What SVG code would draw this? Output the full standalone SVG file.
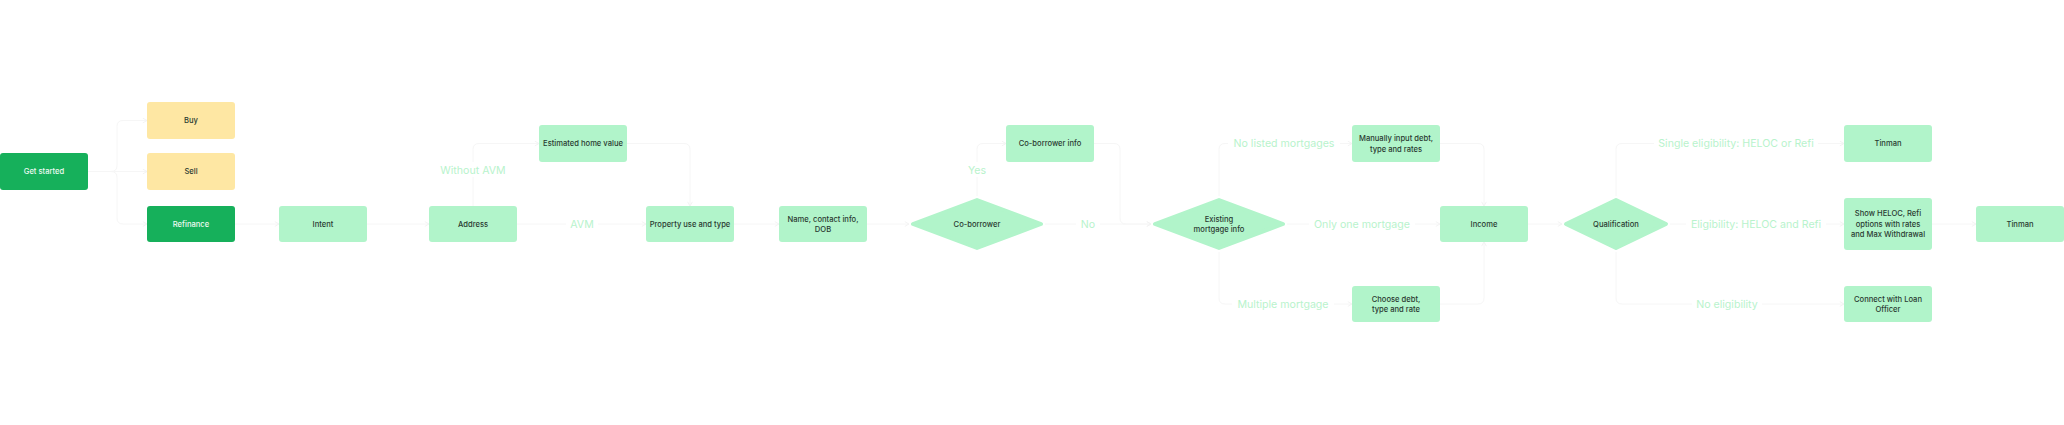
<svg xmlns="http://www.w3.org/2000/svg" width="2064" height="425" viewBox="0 0 2064 425">
<style>
.bg{fill:#ffffff}
.n rect{rx:3;ry:3}
.dark{fill:#16b05b}
.yel{fill:#fee7a3}
.lt{fill:#b1f4ca}
.dia{fill:#b1f4ca;stroke:#b1f4ca;stroke-width:4;stroke-linejoin:round}
.t{font-family:Inter,"Liberation Sans",sans-serif;font-size:7.6px;font-weight:500;fill:#2a3a31;text-anchor:middle}
.tw{fill:#eefaf2}
.c path{fill:none;stroke:#f6f6f6;stroke-width:1}
.lb rect{fill:#ffffff}
.lb text{font-family:Inter,"Liberation Sans",sans-serif;font-size:10.6px;fill:#b8f3cc;text-anchor:middle}
</style>
<defs>
<marker id="a" viewBox="0 0 10 10" refX="9" refY="5" markerWidth="6" markerHeight="6" orient="auto" markerUnits="userSpaceOnUse">
<path d="M2,1 L9,5 L2,9" fill="none" stroke="#f2f2f2" stroke-width="1.5"/>
</marker>
</defs>
<rect class="bg" x="0" y="0" width="2064" height="425"/>
<g id="connectors" class="c">
<path d="M88,171.5 H111 Q117,171.5 117,165.5 V126.5 Q117,120.5 123,120.5 H147" marker-end="url(#a)"/>
<path d="M88,171.5 H147" marker-end="url(#a)"/>
<path d="M88,171.5 H111 Q117,171.5 117,177.5 V218 Q117,224 123,224 H147" marker-end="url(#a)"/>
<path d="M235,224 H279" marker-end="url(#a)"/>
<path d="M367,224 H429" marker-end="url(#a)"/>
<path d="M473,206 V149.5 Q473,143.5 479,143.5 H539" marker-end="url(#a)"/>
<path d="M517,224 H646" marker-end="url(#a)"/>
<path d="M627,143.5 H684 Q690,143.5 690,149.5 V206" marker-end="url(#a)"/>
<path d="M734,224 H779" marker-end="url(#a)"/>
<path d="M867,224 H909" marker-end="url(#a)"/>
<path d="M977,196 V149.5 Q977,143.5 983,143.5 H1006" marker-end="url(#a)"/>
<path d="M1045,224 H1151" marker-end="url(#a)"/>
<path d="M1094,143.5 H1114 Q1120,143.5 1120,149.5 V218 Q1120,224 1126,224 H1151" marker-end="url(#a)"/>
<path d="M1219,196 V149.5 Q1219,143.5 1225,143.5 H1352" marker-end="url(#a)"/>
<path d="M1287,224 H1440" marker-end="url(#a)"/>
<path d="M1219,252 V298 Q1219,304 1225,304 H1352" marker-end="url(#a)"/>
<path d="M1440,143.5 H1478 Q1484,143.5 1484,149.5 V206" marker-end="url(#a)"/>
<path d="M1440,304 H1478 Q1484,304 1484,298 V242" marker-end="url(#a)"/>
<path d="M1528,224 H1562" marker-end="url(#a)"/>
<path d="M1616,196 V149.5 Q1616,143.5 1622,143.5 H1844" marker-end="url(#a)"/>
<path d="M1670,224 H1844" marker-end="url(#a)"/>
<path d="M1616,252 V298 Q1616,304 1622,304 H1844" marker-end="url(#a)"/>
<path d="M1932,224 H1976" marker-end="url(#a)"/>
</g>
<g id="labels" class="lb">
<rect x="436" y="162" width="74" height="15"/><text x="473" y="173.8">Without AVM</text>
<rect x="566" y="216" width="32" height="15"/><text x="582" y="227.8">AVM</text>
<rect x="963" y="162" width="28" height="15"/><text x="977" y="173.8">Yes</text>
<rect x="1076" y="216" width="24" height="15"/><text x="1088" y="227.8">No</text>
<rect x="1228" y="136" width="112" height="15"/><text x="1284" y="147.3">No listed mortgages</text>
<rect x="1309" y="216" width="106" height="15"/><text x="1362" y="227.8">Only one mortgage</text>
<rect x="1232" y="296" width="102" height="15"/><text x="1283" y="307.8">Multiple mortgage</text>
<rect x="1654" y="136" width="164" height="15"/><text x="1736" y="147.3">Single eligibility: HELOC or Refi</text>
<rect x="1686" y="216" width="140" height="15"/><text x="1756" y="227.8">Eligibility: HELOC and Refi</text>
<rect x="1692" y="296" width="70" height="15"/><text x="1727" y="307.8">No eligibility</text>
</g>
<g id="get-started" class="n"><rect class="dark" x="0" y="153" width="88" height="37"/><text class="t tw" x="44" y="174.2">Get started</text></g>
<g id="buy" class="n"><rect class="yel" x="147" y="102" width="88" height="37"/><text class="t" x="191" y="123.2">Buy</text></g>
<g id="sell" class="n"><rect class="yel" x="147" y="153" width="88" height="37"/><text class="t" x="191" y="174.2">Sell</text></g>
<g id="refinance" class="n"><rect class="dark" x="147" y="206" width="88" height="36"/><text class="t tw" x="191" y="226.7">Refinance</text></g>
<g id="intent" class="n"><rect class="lt" x="279" y="206" width="88" height="36"/><text class="t" x="323" y="226.7">Intent</text></g>
<g id="address" class="n"><rect class="lt" x="429" y="206" width="88" height="36"/><text class="t" x="473" y="226.7">Address</text></g>
<g id="estimated-home-value" class="n"><rect class="lt" x="539" y="125" width="88" height="37"/><text class="t" x="583" y="146.2">Estimated home value</text></g>
<g id="property-use" class="n"><rect class="lt" x="646" y="206" width="88" height="36"/><text class="t" x="690" y="226.7">Property use and type</text></g>
<g id="name-contact" class="n"><rect class="lt" x="779" y="206" width="88" height="36"/><text class="t" x="823" y="221.5">Name, contact info,</text><text class="t" x="823" y="232">DOB</text></g>
<g id="co-borrower" class="n"><path class="dia" d="M913,224 L977,200 L1041,224 L977,248 Z"/><text class="t" x="977" y="226.7">Co-borrower</text></g>
<g id="co-borrower-info" class="n"><rect class="lt" x="1006" y="125" width="88" height="37"/><text class="t" x="1050" y="146.2">Co-borrower info</text></g>
<g id="existing-mortgage" class="n"><path class="dia" d="M1155,224 L1219,200 L1283,224 L1219,248 Z"/><text class="t" x="1219" y="221.5">Existing</text><text class="t" x="1219" y="232">mortgage info</text></g>
<g id="manual-debt" class="n"><rect class="lt" x="1352" y="125" width="88" height="37"/><text class="t" x="1396" y="141">Manually input debt,</text><text class="t" x="1396" y="151.5">type and rates</text></g>
<g id="choose-debt" class="n"><rect class="lt" x="1352" y="286" width="88" height="36"/><text class="t" x="1396" y="301.5">Choose debt,</text><text class="t" x="1396" y="312">type and rate</text></g>
<g id="income" class="n"><rect class="lt" x="1440" y="206" width="88" height="36"/><text class="t" x="1484" y="226.7">Income</text></g>
<g id="qualification" class="n"><path class="dia" d="M1566,224 L1616,200 L1666,224 L1616,248 Z"/><text class="t" x="1616" y="226.7">Qualification</text></g>
<g id="tinman-1" class="n"><rect class="lt" x="1844" y="125" width="88" height="37"/><text class="t" x="1888" y="146.2">Tinman</text></g>
<g id="show-heloc" class="n"><rect class="lt" x="1844" y="198" width="88" height="52"/><text class="t" x="1888" y="216">Show HELOC, Refi</text><text class="t" x="1888" y="226.7">options with rates</text><text class="t" x="1888" y="237.4">and Max Withdrawal</text></g>
<g id="tinman-2" class="n"><rect class="lt" x="1976" y="206" width="88" height="36"/><text class="t" x="2020" y="226.7">Tinman</text></g>
<g id="loan-officer" class="n"><rect class="lt" x="1844" y="286" width="88" height="36"/><text class="t" x="1888" y="301.5">Connect with Loan</text><text class="t" x="1888" y="312">Officer</text></g>
</svg>
